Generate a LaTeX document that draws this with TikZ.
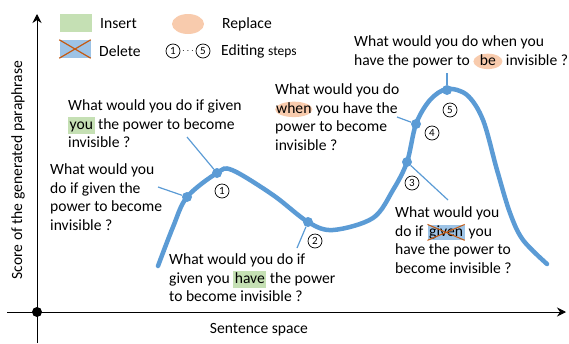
\documentclass[tikz,border=0pt]{standalone}
\usepackage{fontspec}
\setmainfont{Carlito}
\usetikzlibrary{arrows.meta, shapes.geometric}
\definecolor{curveblue}{HTML}{5B9BD5}
\definecolor{insgreen}{HTML}{C5E0B4}
\definecolor{repsalmon}{HTML}{F8CBAD}
\definecolor{delblue}{HTML}{9DC3E6}
\definecolor{delred}{HTML}{C55A11}

\newcommand{\insword}[1]{\tikz[baseline=(w.base)]\node[fill=insgreen, inner xsep=1.5pt, inner ysep=1pt, text height=11pt, text depth=3.5pt](w){#1};}
\newcommand{\delword}[1]{\tikz[baseline=(w.base)]{\node[fill=delblue, inner xsep=1.5pt, inner ysep=0.5pt, text height=11pt, text depth=3.5pt](w){#1};
  \draw[delred, line width=1pt] (w.south west) -- (w.north east) (w.north west) -- (w.south east);}}
\newcommand{\repword}[2][]{\tikz[baseline=(w.base)]\node[ellipse, fill=repsalmon, inner xsep=-4.5pt, inner ysep=-1.8pt, text height=11pt, text depth=3.5pt, #1](w){#2};}

\begin{document}
\begin{tikzpicture}[x=1pt, y=-1pt,
    sent/.style={align=left, inner sep=0, anchor=north west, font=\fontsize{15.6}{18.6}\selectfont},
    legtext/.style={inner sep=0, anchor=west, font=\fontsize{15.6}{18}\selectfont},
    curve/.style={curveblue, line width=4.5pt, line cap=round},
    link/.style={curveblue, line width=1.2pt},
    dot/.style={circle, fill=curveblue, inner sep=0, minimum size=10pt},
    stepnum/.style={circle, draw, line width=0.7pt, inner sep=0, minimum size=14pt, font=\fontsize{11}{11}\selectfont},
    axis/.style={line width=0.9pt, -{Stealth[length=9pt, width=9pt, inset=3pt]}}]
    \useasboundingbox (0,0) rectangle (569,343);

    \node[circle, fill, inner sep=0, minimum size=10pt] (origin) at (37,312) {};
    \coordinate (ybottom) at (37,343);
    \coordinate (ytop) at (37,14);
    \coordinate (xleft) at (7,312);
    \coordinate (xright) at (566,312);
    \draw[axis] (ybottom) -- (ytop);
    \draw[axis] (xleft) -- (xright);
    \node[rotate=90, inner sep=0, font=\fontsize{15.6}{18}\selectfont] (ylabel) at (18,170) {Score of the generated paraphrase};
    \node[inner sep=0, font=\fontsize{15.6}{18}\selectfont] (xlabel) at (259,330) {Sentence space};

    \node[fill=insgreen, minimum width=32pt, minimum height=18pt] (insbox) at (76,23) {};
    \node[legtext] (instext) at (100,24) {Insert};
    \node[ellipse, fill=repsalmon, minimum width=32pt, minimum height=20pt] (repbox) at (188,24) {};
    \node[legtext] (reptext) at (222,24) {Replace};
    \node[fill=delblue, minimum width=31pt, minimum height=18pt, inner sep=0] (delbox) at (75,49) {};
    \draw[delred, line width=1.2pt] (delbox.south west) -- (delbox.north east) (delbox.north west) -- (delbox.south east);
    \node[legtext] (deltext) at (99,51) {Delete};
    \node[stepnum] (legone) at (173,51) {1};
    \node[inner sep=0] (legdots) at (188,51) {$\cdots$};
    \node[stepnum] (legfive) at (203,51) {5};
    \node[legtext] (steptext) at (221,51) {Editing {\fontsize{13.5}{15}\selectfont steps}};

    \draw[curve] plot[smooth, tension=0.55] coordinates {(158,266) (173,227) (187,197) (217,173) (232,170) (273,195) (308,222) (333,230) (373,218) (393,190) (407,162) (416,124) (430,100) (447,89) (467,95) (483,120) (497,170) (510,213) (523,240) (547,264)};

    \coordinate (tip0) at (158,187);
    \coordinate (tip1) at (187,137);
    \coordinate (tip2) at (297,248);
    \coordinate (tip3) at (448,200);
    \coordinate (tip4) at (397,117);
    \coordinate (tip5) at (447,73);
    \node[dot] (dot0) at (187,197) {};
    \node[dot] (dot1) at (217,173) {};
    \node[dot] (dot2) at (308,222) {};
    \node[dot] (dot3) at (407,162) {};
    \node[dot] (dot4) at (416,124) {};
    \node[dot] (dot5) at (447,90) {};
    \draw[link] (dot0) -- (tip0);
    \draw[link] (dot1) -- (tip1);
    \draw[link] (dot2) -- (tip2);
    \draw[link] (dot3) -- (tip3);
    \draw[link] (dot4) -- (tip4);
    \draw[link] (dot5) -- (tip5);

    \node[stepnum] (num1) at (222,191) {1};
    \node[stepnum] (num2) at (315,241) {2};
    \node[stepnum] (num3) at (412,183) {3};
    \node[stepnum] (num4) at (432,133) {4};
    \node[stepnum] (num5) at (450,110) {5};

    \node[sent] (sent0) at (50,163.5) {What would you\\do if given the\\power to become\\invisible ?};
    \node[sent] (sent1) at (68,99.5) {What would you do if given\\\insword{you} the power to become\\invisible ?};
    \node[sent] (sent2) at (169,253.5) {What would you do if\\given you \insword{have} the power\\to become invisible ?};
    \node[sent] (sent3) at (395,206.5) {What would you\\do if \delword{given} you\\have the power to\\become invisible ?};
    \node[sent] (sent4) at (275,83.5) {What would you do\\\repword{when} you have the\\power to become\\invisible ?};
    \node[sent] (sent5) at (354,35.5) {What would you do when you\\have the power to \repword[minimum width=29pt]{be} invisible ?};
\end{tikzpicture}
\end{document}
